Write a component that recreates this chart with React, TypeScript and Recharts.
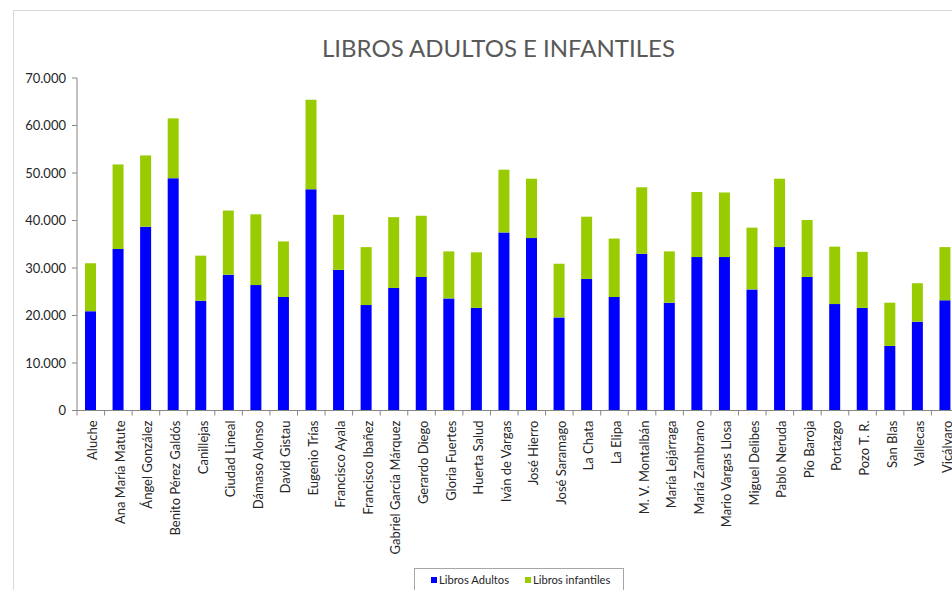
import React from 'react';
import { BarChart, Bar, XAxis, YAxis } from 'recharts';

const categories = [
  'Aluche', 'Ana María Matute', 'Ángel González', 'Benito Pérez Galdós', 'Canillejas',
  'Ciudad Lineal', 'Dámaso Alonso', 'David Gistau', 'Eugenio Trías', 'Francisco Ayala',
  'Francisco Ibañez', 'Gabriel García Márquez', 'Gerardo Diego', 'Gloria Fuertes', 'Huerta Salud',
  'Iván de Vargas', 'José Hierro', 'José Saramago', 'La Chata', 'La Elipa',
  'M. V. Montalbán', 'María Lejárraga', 'María Zambrano', 'Mario Vargas Llosa', 'Miguel Delibes',
  'Pablo Neruda', 'Pío Baroja', 'Portazgo', 'Pozo T. R.', 'San Blas',
  'Vallecas', 'Vicálvaro',
];

const librosAdultos = [
  20900, 34000, 38700, 48900, 23100, 28600, 26400, 23900, 46600, 29600,
  22200, 25800, 28100, 23600, 21600, 37500, 36300, 19600, 27700, 23900,
  33000, 22700, 32300, 32300, 25500, 34400, 28100, 22400, 21600, 13600,
  18700, 23200,
];

const librosInfantiles = [
  10100, 17800, 15000, 12600, 9500, 13500, 14900, 11700, 18800, 11600,
  12200, 14900, 12900, 9900, 11700, 13200, 12500, 11300, 13100, 12300,
  14000, 10800, 13700, 13600, 13000, 14400, 12000, 12100, 11800, 9100,
  8100, 11200,
];

const yTicks = [0, 10000, 20000, 30000, 40000, 50000, 60000, 70000];

const data = categories.map((name, i) => ({
  name,
  adultos: librosAdultos[i],
  infantiles: librosInfantiles[i],
}));

const FONT = 'Lato, "Open Sans", sans-serif';
const AXIS = '#868686';
const BAND = 882 / categories.length;

const fmt = (v: number) => (v === 0 ? '0' : v.toString().replace(/\B(?=(\d{3})+(?!\d))/g, '.'));

const XTick = (props: any) => {
  const { x, y, payload } = props;
  const bx = x - BAND / 2;
  return (
    <g>
      <line x1={bx} x2={bx} y1={y - 10} y2={y - 5} stroke={AXIS} strokeWidth={1} />
      <text
        x={x + 1.5}
        y={y}
        transform={`rotate(-90 ${x + 1.5} ${y})`}
        textAnchor="end"
        dominantBaseline="central"
        fontSize={13}
        fontFamily={FONT}
        fill="#262626"
      >
        {payload.value}
      </text>
    </g>
  );
};

export default function App() {
  return (
    <div style={{ position: 'fixed', left: 0, top: 0, width: 952, height: 590, overflow: 'hidden', background: '#fff' }}>
      <div
        style={{
          position: 'absolute', left: 13, top: 10, width: 1000, height: 620,
          borderLeft: '1px solid #d9d9d9', borderTop: '1px solid #d9d9d9', boxSizing: 'border-box',
        }}
      />
      <div
        style={{
          position: 'absolute', left: 0, top: 33, width: 997, textAlign: 'center',
          fontFamily: FONT, fontSize: 24, lineHeight: '29px', color: '#595959',
        }}
      >
        LIBROS ADULTOS E INFANTILES
      </div>
      <div style={{ position: 'absolute', left: 0, top: 0 }}>
        <BarChart width={980} height={590} data={data} margin={{ top: 78, right: 21, left: 0, bottom: 39.5 }}>
          <XAxis
            dataKey="name"
            interval={0}
            height={140}
            tickSize={5}
            tickMargin={5}
            tickLine={false}
            axisLine={{ stroke: AXIS }}
            tick={<XTick />}
          />
          <YAxis
            width={77}
            domain={[0, 70000]}
            ticks={yTicks}
            tickFormatter={fmt}
            tickSize={5}
            tickMargin={6}
            axisLine={{ stroke: AXIS }}
            tickLine={{ stroke: AXIS }}
            tick={{ fontSize: 13, fontFamily: FONT, fill: '#262626' }}
          />
          <Bar dataKey="adultos" name="Libros Adultos" stackId="a" fill="#0000FF" barSize={11} isAnimationActive={false} />
          <Bar dataKey="infantiles" name="Libros infantiles" stackId="a" fill="#99CC00" barSize={11} isAnimationActive={false} />
        </BarChart>
      </div>
      <div
        style={{
          position: 'absolute', left: 414, top: 568, width: 210, height: 40,
          border: '1px solid #a6a6a6', boxSizing: 'border-box', fontFamily: FONT, fontSize: 11.2,
          color: '#262626', display: 'flex', alignItems: 'flex-start', paddingTop: 4, paddingLeft: 16,
        }}
      >
        <span style={{ display: 'inline-flex', alignItems: 'center' }}>
          <span style={{ width: 6, height: 6, background: '#0000FF', marginRight: 2, display: 'inline-block' }} />
          Libros Adultos
        </span>
        <span style={{ display: 'inline-flex', alignItems: 'center', marginLeft: 16 }}>
          <span style={{ width: 6, height: 6, background: '#99CC00', marginRight: 2, display: 'inline-block' }} />
          Libros infantiles
        </span>
      </div>
    </div>
  );
}
